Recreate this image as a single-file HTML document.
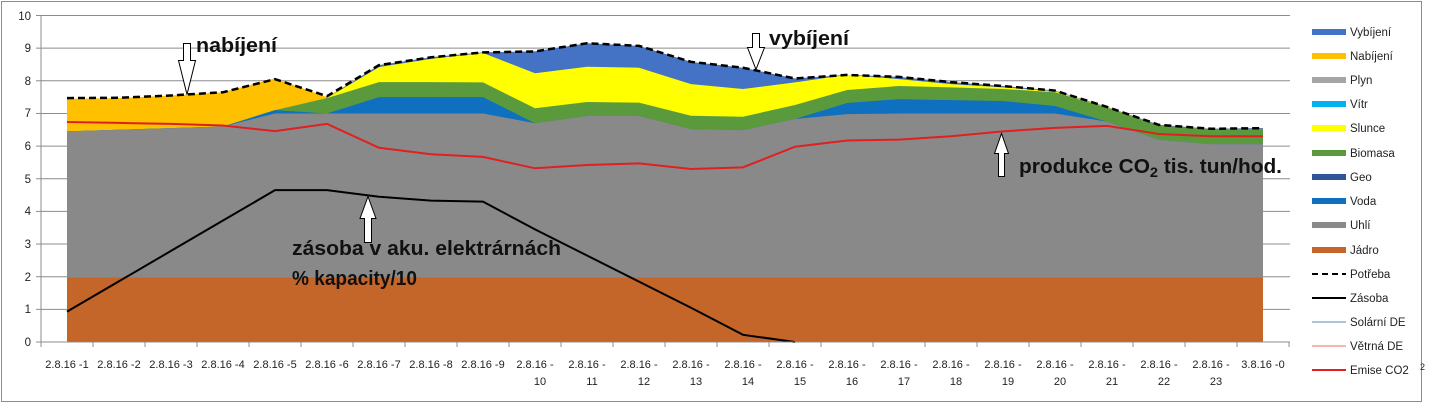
<!DOCTYPE html>
<html><head><meta charset="utf-8"><style>
html,body{margin:0;padding:0;background:#fff}
svg{display:block}
text{font-family:"Liberation Sans",sans-serif}
</style></head><body>
<svg width="1440" height="404" viewBox="0 0 1440 404" xmlns="http://www.w3.org/2000/svg">
<rect x="1.5" y="1.5" width="1420" height="400" fill="#fff" stroke="#8c8c8c" stroke-width="1"/>
<g stroke="#8c8c8c" stroke-width="1">
<line x1="41" x2="1290" y1="309.35" y2="309.35"/><line x1="41" x2="1290" y1="276.7" y2="276.7"/>
<line x1="41" x2="1290" y1="244.05" y2="244.05"/><line x1="41" x2="1290" y1="211.4" y2="211.4"/>
<line x1="41" x2="1290" y1="178.75" y2="178.75"/><line x1="41" x2="1290" y1="146.1" y2="146.1"/>
<line x1="41" x2="1290" y1="113.45" y2="113.45"/><line x1="41" x2="1290" y1="80.8" y2="80.8"/>
<line x1="41" x2="1290" y1="48.15" y2="48.15"/><line x1="41" x2="1290" y1="15.5" y2="15.5"/>
</g>
<g transform="translate(67,342) scale(52,-32.65)">
<polygon fill="#ffc000" points="0,7.45 1,7.47 2,7.55 3,7.65 4,8.08 5,7.5 6,8.48 7,8.72 8,8.87 9,8.9 10,9.15 11,9.07 12,8.58 13,8.4 14,8.07 15,8.18 16,8.12 17,7.96 18,7.84 19,7.7 20,7.2 21,6.65 22,6.53 23,6.55 23,0 0,0"/>
<polygon fill="#4472c4" points="0,6.45 1,6.5 2,6.55 3,6.6 4,7.1 5,7.47 6,8.48 7,8.72 8,8.87 9,8.9 10,9.15 11,9.07 12,8.58 13,8.4 14,8.07 15,8.18 16,8.12 17,7.96 18,7.84 19,7.7 20,7.2 21,6.65 22,6.53 23,6.55 23,0 0,0"/>
<polygon fill="#ffff00" points="0,6.45 1,6.5 2,6.55 3,6.6 4,7.1 5,7.47 6,8.42 7,8.67 8,8.85 9,8.23 10,8.43 11,8.4 12,7.9 13,7.75 14,7.95 15,8.18 16,8.05 17,7.9 18,7.8 19,7.68 20,7.19 21,6.62 22,6.52 23,6.52 23,0 0,0"/>
<polygon fill="#5b9a3c" points="0,6.45 1,6.5 2,6.55 3,6.6 4,7.1 5,7.47 6,7.96 7,7.96 8,7.95 9,7.16 10,7.35 11,7.33 12,6.93 13,6.9 14,7.26 15,7.72 16,7.84 17,7.8 18,7.75 19,7.65 20,7.18 21,6.62 22,6.52 23,6.52 23,0 0,0"/>
<polygon fill="#0f70c0" points="0,6.45 1,6.5 2,6.55 3,6.6 4,7.1 5,7.0 6,7.5 7,7.5 8,7.5 9,6.7 10,6.92 11,6.92 12,6.52 13,6.49 14,6.83 15,7.32 16,7.44 17,7.41 18,7.38 19,7.23 20,6.75 21,6.19 22,6.06 23,6.06 23,0 0,0"/>
<polygon fill="#898989" points="0,6.45 1,6.5 2,6.55 3,6.6 4,7.0 5,7.0 6,7.0 7,7.0 8,7.0 9,6.7 10,6.92 11,6.92 12,6.52 13,6.49 14,6.83 15,6.98 16,7.0 17,7.0 18,7.0 19,7.0 20,6.75 21,6.19 22,6.06 23,6.06 23,0 0,0"/>
<polygon fill="#c4652a" points="0,1.97 23,1.97 23,0 0,0"/>
<polyline fill="none" stroke="#e02020" stroke-width="2" vector-effect="non-scaling-stroke" points="0,6.74 1,6.71 2,6.68 3,6.63 4,6.46 5,6.68 6,5.95 7,5.75 8,5.67 9,5.32 10,5.42 11,5.47 12,5.3 13,5.35 14,5.98 15,6.17 16,6.2 17,6.3 18,6.45 19,6.56 20,6.62 21,6.37 22,6.3 23,6.3"/>
<polyline fill="none" stroke="#000" stroke-width="2" vector-effect="non-scaling-stroke" points="0,0.93 1,1.86 2,2.79 3,3.72 4,4.65 5,4.65 6,4.45 7,4.33 8,4.3 9,3.45 10,2.65 11,1.85 12,1.05 13,0.22 14,0"/>
<polyline fill="none" stroke="#000" stroke-width="2.5" stroke-dasharray="7,4" vector-effect="non-scaling-stroke" points="0,7.47 1,7.48 2,7.55 3,7.65 4,8.05 5,7.53 6,8.48 7,8.72 8,8.87 9,8.9 10,9.15 11,9.07 12,8.58 13,8.4 14,8.07 15,8.18 16,8.12 17,7.96 18,7.84 19,7.7 20,7.2 21,6.65 22,6.53 23,6.55"/>
</g>
<g stroke="#8c8c8c" stroke-width="1">
<line x1="41" x2="41" y1="15" y2="342"/><line x1="36" x2="1290" y1="342" y2="342"/>
</g>
<g stroke="#8c8c8c">
<line x1="36" x2="41" y1="309.35" y2="309.35"/><line x1="36" x2="41" y1="276.7" y2="276.7"/><line x1="36" x2="41" y1="244.05" y2="244.05"/><line x1="36" x2="41" y1="211.4" y2="211.4"/><line x1="36" x2="41" y1="178.75" y2="178.75"/><line x1="36" x2="41" y1="146.1" y2="146.1"/><line x1="36" x2="41" y1="113.45" y2="113.45"/><line x1="36" x2="41" y1="80.8" y2="80.8"/><line x1="36" x2="41" y1="48.15" y2="48.15"/><line x1="36" x2="41" y1="15.5" y2="15.5"/>
<path d="M41 342v5M93 342v5M145 342v5M197 342v5M249 342v5M301 342v5M353 342v5M405 342v5M457 342v5M509 342v5M561 342v5M613 342v5M665 342v5M717 342v5M769 342v5M821 342v5M873 342v5M925 342v5M977 342v5M1029 342v5M1081 342v5M1133 342v5M1185 342v5M1237 342v5M1289 342v5"/>
</g>
<g font-size="11.5" fill="#222" text-anchor="end">
<text x="31" y="346">0</text><text x="31" y="313">1</text><text x="31" y="281">2</text><text x="31" y="248">3</text><text x="31" y="215">4</text><text x="31" y="183">5</text><text x="31" y="150">6</text><text x="31" y="117">7</text><text x="31" y="85">8</text><text x="31" y="52">9</text><text x="31" y="20">10</text>
</g>
<g font-size="11" fill="#222" text-anchor="middle">
<text x="67" y="368">2.8.16 -1</text><text x="119" y="368">2.8.16 -2</text><text x="171" y="368">2.8.16 -3</text><text x="223" y="368">2.8.16 -4</text><text x="275" y="368">2.8.16 -5</text><text x="327" y="368">2.8.16 -6</text><text x="379" y="368">2.8.16 -7</text><text x="431" y="368">2.8.16 -8</text><text x="483" y="368">2.8.16 -9</text>
<text x="535" y="368">2.8.16 -</text><text x="540" y="385">10</text>
<text x="587" y="368">2.8.16 -</text><text x="592" y="385">11</text>
<text x="639" y="368">2.8.16 -</text><text x="644" y="385">12</text>
<text x="691" y="368">2.8.16 -</text><text x="696" y="385">13</text>
<text x="743" y="368">2.8.16 -</text><text x="748" y="385">14</text>
<text x="795" y="368">2.8.16 -</text><text x="800" y="385">15</text>
<text x="847" y="368">2.8.16 -</text><text x="852" y="385">16</text>
<text x="899" y="368">2.8.16 -</text><text x="904" y="385">17</text>
<text x="951" y="368">2.8.16 -</text><text x="956" y="385">18</text>
<text x="1003" y="368">2.8.16 -</text><text x="1008" y="385">19</text>
<text x="1055" y="368">2.8.16 -</text><text x="1060" y="385">20</text>
<text x="1107" y="368">2.8.16 -</text><text x="1112" y="385">21</text>
<text x="1159" y="368">2.8.16 -</text><text x="1164" y="385">22</text>
<text x="1211" y="368">2.8.16 -</text><text x="1216" y="385">23</text>
<text x="1263" y="368">3.8.16 -0</text>
</g>
<g font-size="11.5" fill="#222">
<rect x="1312" y="29" width="34" height="6" fill="#4472c4"/><text x="1350" y="36">Vybíjení</text>
<rect x="1312" y="53" width="34" height="6" fill="#ffc000"/><text x="1350" y="60">Nabíjení</text>
<rect x="1312" y="77" width="34" height="6" fill="#a5a5a5"/><text x="1350" y="84">Plyn</text>
<rect x="1312" y="101" width="34" height="6" fill="#00b0f0"/><text x="1350" y="108">Vítr</text>
<rect x="1312" y="125" width="34" height="6" fill="#ffff00"/><text x="1350" y="132">Slunce</text>
<rect x="1312" y="150" width="34" height="6" fill="#5b9a3c"/><text x="1350" y="157">Biomasa</text>
<rect x="1312" y="174" width="34" height="6" fill="#2f5597"/><text x="1350" y="181">Geo</text>
<rect x="1312" y="198" width="34" height="6" fill="#0f70c0"/><text x="1350" y="205">Voda</text>
<rect x="1312" y="222" width="34" height="6" fill="#898989"/><text x="1350" y="229">Uhlí</text>
<rect x="1312" y="247" width="34" height="6" fill="#c4652a"/><text x="1350" y="254">Jádro</text>
<line x1="1312" x2="1346" y1="274" y2="274" stroke="#000" stroke-width="2" stroke-dasharray="6,4"/><text x="1350" y="278">Potřeba</text>
<line x1="1312" x2="1346" y1="298" y2="298" stroke="#000" stroke-width="2"/><text x="1350" y="302">Zásoba</text>
<line x1="1312" x2="1346" y1="322" y2="322" stroke="#a9c4dc" stroke-width="2"/><text x="1350" y="326">Solární DE</text>
<line x1="1312" x2="1346" y1="346" y2="346" stroke="#f0b8a8" stroke-width="2"/><text x="1350" y="350">Větrná DE</text>
<line x1="1312" x2="1346" y1="370" y2="370" stroke="#e02020" stroke-width="2"/><text x="1350" y="374">Emise CO2</text>
<text x="1420" y="370" font-size="9">2</text>
</g>
<g fill="#fff" stroke="#000" stroke-width="1">
<path d="M183.5 43.5h7v17h5l-8.5 34l-8.5-34h5z"/>
<path d="M752.5 33.5h7v14h5l-8.5 22l-8.5-22h5z"/>
<path d="M368 196.5l8 22h-4.5v24h-7v-24h-4.5z"/>
<path d="M1001.5 133.5l7 20h-4v23h-6v-23h-4z"/>
</g>
<g font-size="20" font-weight="bold" fill="#111">
<text x="196" y="52" textLength="81" lengthAdjust="spacingAndGlyphs">nabíjení</text>
<text x="769" y="45" textLength="80" lengthAdjust="spacingAndGlyphs">vybíjení</text>
<text x="292" y="255" textLength="269" lengthAdjust="spacingAndGlyphs">zásoba v aku. elektrárnách</text>
<text x="292" y="285" textLength="125" lengthAdjust="spacingAndGlyphs">% kapacity/10</text>
<text x="1019" y="173" textLength="263" lengthAdjust="spacingAndGlyphs">produkce CO<tspan font-size="14" dy="4">2</tspan><tspan dy="-4"> tis. tun/hod.</tspan></text>
</g>
</svg>
</body></html>
